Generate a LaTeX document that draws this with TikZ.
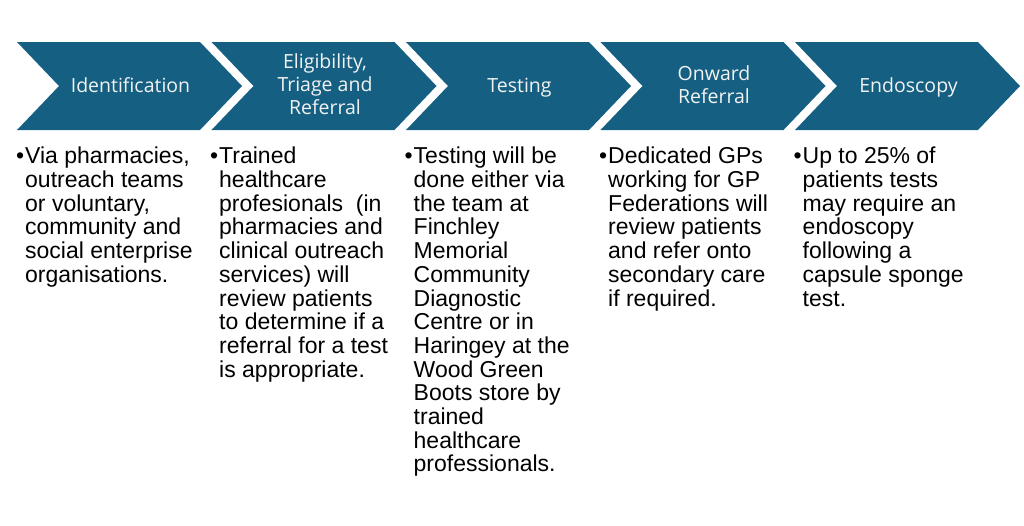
\documentclass[tikz,border=0pt]{standalone}
\usepackage{fontspec}
\setmainfont{Liberation Sans}
\newfontfamily\headfont{Open Sans}
\definecolor{chev}{HTML}{156082}
\definecolor{headcol}{HTML}{F2F2F2}
\tikzset{
  chevshape/.style={fill=chev, draw=none},
  headtxt/.style={text=headcol, align=center, inner sep=0pt, font=\headfont\fontsize{19.5}{23}\selectfont},
  bodytxt/.style={text=black, align=left, inner sep=0pt, anchor=north west, font=\fontsize{23}{23.7}\selectfont},
}
\newcommand{\bul}{\llap{\raisebox{0pt}{•}\hspace{1pt}}}
\newcommand{\ph}{\vphantom{dg}}
\begin{document}
\begin{tikzpicture}[x=1pt,y=-1pt]
\useasboundingbox (0,0) rectangle (1024,525);
\foreach \i in {0,...,4}{
  \pgfmathsetmacro{\L}{17+194.5*\i}
  \fill[chevshape] (\L,42) -- ++(183,0) -- ++(42,44) -- ++(-42,44) -- ++(-183,0) -- ++(42,-44) -- cycle;
}
\node[headtxt] (h1) at (130.5,87) {\ph Identification};
\node[headtxt] (h2) at (325,86.5) {\ph Eligibility,\\Triage and\\\ph Referral};
\node[headtxt] (h3) at (519.5,87) {\ph Testing};
\node[headtxt] (h4) at (714,86.5) {\ph Onward\\\ph Referral};
\node[headtxt] (h5) at (908.5,87) {\ph Endoscopy};

\node[bodytxt] (b1) at (25,147) {\bul Via pharmacies,\\outreach teams\\or voluntary,\\community and\\social enterprise\\organisations.};
\node[bodytxt] (b2) at (219,147) {\bul Trained\\healthcare\\profesionals\ \ (in\\pharmacies and\\clinical outreach\\services) will\\review patients\\to determine if a\\referral for a test\\is appropriate.};
\node[bodytxt] (b3) at (413.5,147) {\bul Testing will be\\done either via\\the team at\\Finchley\\Memorial\\Community\\Diagnostic\\Centre or in\\Haringey at the\\Wood Green\\Boots store by\\trained\\healthcare\\professionals.};
\node[bodytxt] (b4) at (608,147) {\bul Dedicated GPs\\working for GP\\Federations will\\review patients\\and refer onto\\secondary care\\if required.};
\node[bodytxt] (b5) at (802.5,147) {\bul Up to 25\% of\\patients tests\\may require an\\endoscopy\\following a\\capsule sponge\\test.};
\end{tikzpicture}
\end{document}
